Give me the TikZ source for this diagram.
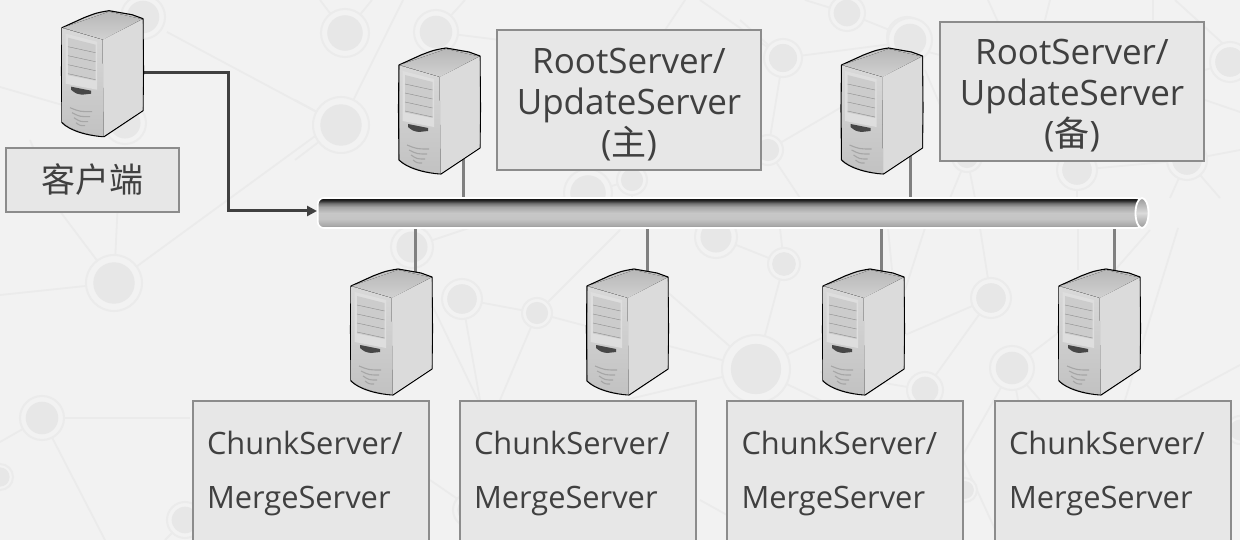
\documentclass[tikz,border=0pt]{standalone}
\usepackage{fontspec}
\setmainfont{Open Sans}
\newfontfamily\cjk{Noto Sans CJK SC}
\usetikzlibrary{arrows.meta,calc,shapes.geometric}
\definecolor{bgc}{HTML}{F2F2F2}
\definecolor{netl}{HTML}{EBEBEB}
\definecolor{netd}{HTML}{E7E7E7}
\definecolor{boxf}{HTML}{E7E7E7}
\definecolor{boxl}{HTML}{8C8C8C}
\definecolor{txt}{HTML}{404040}
\definecolor{wire}{HTML}{808080}
\pgfdeclareverticalshading{pipeshade}{100bp}{
  color(0bp)=(black!42);color(25bp)=(black!42);color(30bp)=(black!33);color(40bp)=(black!23);color(50bp)=(black!22);
  color(60bp)=(black!35);color(66bp)=(black!55);color(71bp)=(black!85);color(75bp)=(black!96);color(100bp)=(black!96)}
\pgfdeclareverticalshading{pipeend}{100bp}{
  color(0bp)=(black!40);color(25bp)=(black!40);color(50bp)=(black!14);color(75bp)=(black!40);color(100bp)=(black!40)}
\pgfdeclareverticalshading{srvfront}{100bp}{
  color(0bp)=(black!24);color(25bp)=(black!24);color(75bp)=(black!15);color(100bp)=(black!15)}
\pgfdeclareverticalshading{srvtop}{100bp}{
  color(0bp)=(black!18);color(25bp)=(black!18);color(75bp)=(black!28);color(100bp)=(black!28)}
\tikzset{
  netline/.style={netl,line width=1.8pt},
  wirel/.style={wire,line width=3pt},
  flow/.style={txt,line width=3pt,-{Triangle[length=10pt,width=10pt]}},
  lbl/.style={draw=boxl,line width=2pt,fill=boxf,text=txt,inner sep=0pt,align=center,font=\fontsize{35}{41}\selectfont},
  lblc/.style={draw=boxl,line width=2pt,fill=boxf,text=txt,anchor=north west,align=left,inner sep=0pt,
    font=\fontsize{30.8}{54}\selectfont,minimum height=144pt,minimum width=236pt,text width=221pt},
  pics/srv/.style={code={
    \draw[black,line width=1.1pt,line join=round,fill=black!22] (0,17) -- (22,7) .. controls (35,2) .. (47,0) -- (70,4) -- (81,8)
       -- (81.5,60) -- (81,100) -- (42,126) .. controls (25,125) and (8,120) .. (0,112) -- (-.5,60) -- cycle;
    \fill[shading=srvtop] (1,17) -- (47,1) -- (80,8.5) -- (41,29) -- cycle;
    \fill[black!14] (41,29) -- (80.5,9) -- (80.5,99.5) -- (42,125) -- cycle;
    \fill[shading=srvfront] (.7,17.5) -- (40.5,29) -- (41.5,125.5) .. controls (25,124) and (8,119) .. (.7,111.5) -- cycle;
    \fill[black!13] (3.7,23) -- (35,31) -- (35,79) -- (3.7,73) -- cycle;
    \fill[black!20] (6,27) -- (33.5,34) -- (33.5,70) -- (6,64.5) -- cycle;
    \foreach \y in {0,9,18,27}{\draw[black!45,line width=.4pt] (6,36+\y) -- (33.5,42+\y);}
    \fill[black!72] (9,76) -- (29,80) -- (29,83) -- (20,84) .. controls (14,83) .. (9,79) -- cycle;
    \draw[black!35,line width=1.1pt] (8,97) .. controls (18,101) .. (30,101);
    \draw[black!35,line width=1.1pt] (10,102) .. controls (18,106) .. (28,106);
    \draw[black!35,line width=1.1pt] (12,107) .. controls (18,111) .. (26,111);
    \draw[black!35,line width=1.1pt] (14,112) .. controls (18,115) .. (23,115);
  }}
}
\newcommand{\netn}[3]{%
  \fill[bgc] (#1,#2) circle[radius=#3];
  \draw[netl,line width=2pt] (#1,#2) circle[radius=#3];
  \fill[netd] (#1,#2) circle[radius=#3*0.74];}
\begin{document}
\begin{tikzpicture}[x=1pt,y=-1pt]
\useasboundingbox (0,0) rectangle (1240,540);
\clip (0,0) rectangle (1240,540);
\fill[bgc] (0,0) rectangle (1240,540);
% faint network background
\foreach \a/\b/\c/\d in {114/283/0/295,114/283/59/210,59/210/30/140,114/283/118/200,114/283/333/123,0/87/125/123,167/32/341/125,
 42/418/190/418,42/418/0/442,42/418/105/540,185/520/165/540,462/299/537/313,462/299/480/400,412/247/478/225,433/307/478/400,
 537/313/500/400,537/313/590/327,537/313/620/230,716/237/784/264,784/264/780/228,784/264/756/369,756/369/665/345,756/369/625/400,
 756/369/822/338,756/369/830/405,665/290/756/369,925/390/820/372,925/390/991/298,991/298/905/335,991/298/980/228,905/290/925/228,
 892/270/888/228,1012/368/1075/320,1012/368/960/460,1012/368/1018/400,1012/368/1040/400,1125/400/1178/228,1175/400/1240/365,
 1078/228/1078/270,1115/270/1150/230,345/33/320/0,345/33/372/0,341/125/403/0,341/125/295/100,341/125/295/160,436/32/500/40,
 436/32/465/0,783/58/700/0,783/58/740/20,783/58/907/42,783/58/768/150,768/150/840/108,847/13/907/37,847/13/805/0,665/30/685/0,
 1230/62/1205/70,1187/160/1240/150,1205/100/1240/112,1187/160/1077/170,1077/170/1077/198,1187/160/1170/198,1187/160/1220/198,
 1175/0/1230/50,1153/0/1153/20,988/0/998/22,1050/0/1045/20,967/157/950/198,967/157/975/198,920/50/940/55,925/70/940/105,
 632/180/588/193,632/180/632/198,768/150/800/198,588/193/560/198,430/130/400/75,963/460/1000/540,700/500/727/515,430/480/459/500}
 {\draw[netline] (\a,\b) -- (\c,\d);}
\foreach \x/\y/\r in {114/283/28,42/418/22,0/477/13,185/520/18,462/299/20,537/313/15,412/247/21,716/237/21,784/264/16,756/369/34,
 925/390/18,991/298/20,1012/368/22,345/33/24,436/32/22,341/125/28,143/17/22,125/123/21,783/58/19,847/13/18,907/37/20,768/150/15,
 632/180/15,588/193/24,1230/62/20,1077/170/20,1187/160/20,967/157/15,910/40/22,1240/430/14,470/510/17,965/490/12}
 {\netn{\x}{\y}{\r}}
% bus
\node[name=bus,draw=white,line width=1.6pt,rounded corners=6pt,shading=pipeshade,minimum width=824pt,minimum height=30pt,inner sep=0pt,anchor=west] at (317,213) {};
\node[name=busend,draw=white,line width=1.8pt,ellipse,shading=pipeend,minimum width=13pt,minimum height=30pt,inner sep=0pt] at (1142,213) {};
% anchors on the servers
\coordinate (cl) at (143,73);
\coordinate (bend) at (228,211);
\coordinate (ra) at (463,150);
\coordinate (rb) at (910.5,150);
\coordinate (c1) at (415,272);
\coordinate (c2) at (647,272);
\coordinate (c3) at (881,272);
\coordinate (c4) at (1114,272);
% connectors
\draw[wirel] (ra) -- (ra |- bus.north);
\draw[wirel] (rb) -- (rb |- bus.north);
\draw[wirel] (c1) -- (c1 |- bus.south);
\draw[wirel] (c2) -- (c2 |- bus.south);
\draw[wirel] (c3) -- (c3 |- bus.south);
\draw[wirel] (c4) -- (c4 |- bus.south);
\draw[flow] (cl) -| (bend) -- (bend -| bus.west);
% servers
\pic at (62,10.7) {srv};
\pic at (399,48) {srv};
\pic at (841.5,48) {srv};
\pic at (351,269) {srv};
\pic at (587,269) {srv};
\pic at (823,269) {srv};
\pic at (1059,269) {srv};
% labels
\node[lbl,name=client,minimum width=173pt,minimum height=64pt,font=\fontsize{34}{41}\selectfont] at (92.5,180) {\cjk 客户端};
\node[lbl,name=root1,minimum width=264pt,minimum height=140pt] at (629,100) {\rule{0pt}{34pt}RootServer/\\UpdateServer\\({\cjk 主})};
\node[lbl,name=root2,minimum width=264pt,minimum height=139pt] at (1072,91.5) {\rule{0pt}{34pt}RootServer/\\UpdateServer\\({\cjk 备})};
\foreach \n/\x in {m1/191.5,m2/458.5,m3/726,m4/993.5}
 {\node[lblc,name=\n] at (\x,400) {\hspace*{7pt}ChunkServer/\\\hspace*{7pt}MergeServer};}
\end{tikzpicture}
\end{document}
